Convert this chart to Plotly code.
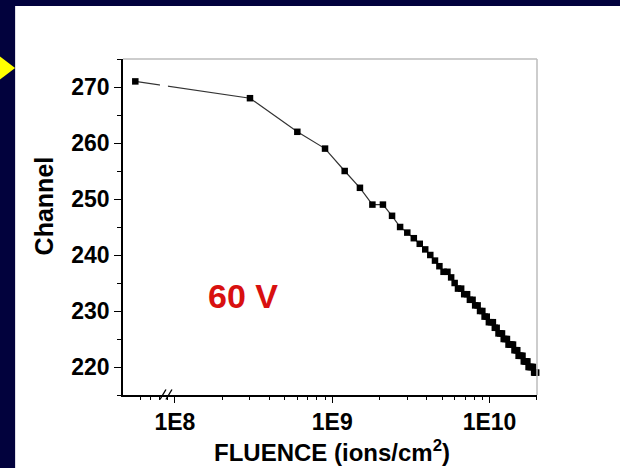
import plotly.graph_objects as go

# ---- data ----
fluence = [5.6e7, 3.0e8, 6.0e8, 9.0e8, 1.2e9, 1.5e9, 1.8e9, 2.1e9, 2.4e9, 2.7e9,
           3.0e9, 3.3e9, 3.6e9, 3.9e9, 4.2e9, 4.5e9, 4.8e9, 5.1e9, 5.4e9, 5.7e9,
           6.0e9, 6.3e9, 6.6e9, 6.9e9, 7.2e9, 7.5e9, 7.8e9, 8.1e9, 8.4e9, 8.7e9,
           9.0e9, 9.3e9, 9.6e9, 9.9e9, 1.02e10, 1.05e10, 1.08e10, 1.11e10, 1.14e10,
           1.17e10, 1.20e10, 1.23e10, 1.26e10, 1.29e10, 1.32e10, 1.35e10, 1.38e10,
           1.41e10, 1.44e10, 1.47e10, 1.50e10, 1.53e10, 1.56e10, 1.59e10, 1.62e10,
           1.65e10, 1.68e10, 1.71e10, 1.74e10, 1.77e10, 1.80e10, 1.83e10, 1.86e10,
           1.89e10, 1.92e10, 1.95e10, 1.98e10]
channel = [271, 268, 262, 259, 255, 252, 249, 249, 247, 245,
           244, 243, 242, 241, 240, 239, 238, 237, 237, 236,
           235, 234, 234, 233, 233, 232, 232, 231, 231, 230,
           230, 229, 229, 228, 228, 228, 227, 227, 226,
           226, 226, 225, 225, 225, 224, 224, 224,
           224, 223, 223, 223, 222, 222, 222, 222,
           221, 221, 221, 221, 220, 220, 220, 220,
           220, 219, 219, 219]

x_tickvals = [1e8, 1e9, 1e10]
x_ticktext = ["1E8", "1E9", "1E10"]
x_minor = [6e7, 7e7, 8e7, 9e7,
           2e8, 3e8, 4e8, 5e8, 6e8, 7e8, 8e8, 9e8,
           2e9, 3e9, 4e9, 5e9, 6e9, 7e9, 8e9, 9e9, 2e10]
y_tickvals = [220, 230, 240, 250, 260, 270]

FONT = "Liberation Sans, Arial, sans-serif"
NAVY = "#02023d"

# ---- layout geometry (pixels) ----
W_FIG, H_FIG = 620, 468
L, R, T, B = 123, 537.5, 59, 395.5
PW, PH = R - L, B - T


def px(x):
    return (x - L) / PW


def py(y):
    return (B - y) / PH


fig = go.Figure()
fig.add_trace(go.Scatter(
    x=fluence, y=channel, mode="lines+markers",
    line=dict(color="#333333", width=1.2),
    marker=dict(symbol="square", size=6.5, color="black"),
    cliponaxis=False, showlegend=False,
))

shapes = [
    # white slide panel
    dict(type="rect", xref="paper", yref="paper", x0=px(15), x1=px(700),
         y0=py(560), y1=py(6), fillcolor="white", line_width=0, layer="below"),
    # yellow arrow tip on the left edge
    dict(type="path", xref="paper", yref="paper",
         path=f"M {px(-2)},{py(55)} L {px(15)},{py(68)} L {px(-2)},{py(81)} Z",
         fillcolor="#ffff00", line_width=0, layer="above"),
    # light grey top and right frame
    dict(type="line", xref="paper", yref="paper", x0=0, x1=1, y0=1, y1=1,
         line=dict(color="#bdbdbd", width=1.5)),
    dict(type="line", xref="paper", yref="paper", x0=1, x1=1, y0=0, y1=1,
         line=dict(color="#bdbdbd", width=1.5)),
    # gap in the first line segment (axis break)
    dict(type="rect", xref="paper", yref="paper", x0=px(160), x1=px(168),
         y0=py(92), y1=py(79), fillcolor="white", line_width=0, layer="above"),
    # axis break marks //
    dict(type="line", xref="paper", yref="paper", x0=px(160), x1=px(166),
         y0=py(400), y1=py(390), line=dict(color="black", width=1.4)),
    dict(type="line", xref="paper", yref="paper", x0=px(166), x1=px(172),
         y0=py(400), y1=py(390), line=dict(color="black", width=1.4)),
]

annotations = [
    dict(text="60 V", xref="paper", yref="paper", x=px(243), y=py(296),
         showarrow=False, xanchor="center", yanchor="middle",
         font=dict(family=FONT, size=34, color="#d81010", weight="bold")),
    dict(text="Channel", xref="paper", yref="paper", x=px(44), y=py(206.5),
         showarrow=False, xanchor="center", yanchor="middle", textangle=-90,
         font=dict(family=FONT, size=25, color="black", weight="bold")),
    dict(text="FLUENCE (ions/cm<sup>2</sup>)", xref="paper", yref="paper",
         x=px(332.5), y=py(452), showarrow=False, xanchor="center", yanchor="middle",
         font=dict(family=FONT, size=24, color="black", weight="bold")),
]

fig.update_layout(
    width=W_FIG, height=H_FIG,
    margin=dict(l=L, r=W_FIG - R, t=T, b=H_FIG - B, pad=0),
    paper_bgcolor=NAVY, plot_bgcolor="white",
    shapes=shapes, annotations=annotations,
    xaxis=dict(
        type="log", range=[7.670, 10.3016],
        tickvals=x_tickvals, ticktext=x_ticktext,
        ticks="outside", ticklen=6, tickwidth=1.4, tickcolor="black",
        showline=True, linecolor="black", linewidth=1.5,
        showgrid=False, zeroline=False,
        tickfont=dict(family=FONT, size=23, color="black", weight="bold"),
        minor=dict(tickvals=x_minor, ticks="outside", ticklen=3, tickwidth=1,
                   tickcolor="black", showgrid=False),
    ),
    yaxis=dict(
        range=[215, 275], tickvals=y_tickvals,
        ticks="outside", ticklen=7, tickwidth=1.4, tickcolor="black",
        showline=True, linecolor="black", linewidth=1.5,
        showgrid=False, zeroline=False,
        tickfont=dict(family=FONT, size=23, color="black", weight="bold"),
        minor=dict(dtick=5, tick0=215, ticks="outside", ticklen=4, tickwidth=1,
                   tickcolor="black", showgrid=False),
    ),
)

fig.write_html(
    "out.html",
    config={"displayModeBar": False},
    post_script="document.body.style.margin='0';document.body.style.padding='0';"
                "document.body.style.overflow='hidden';",
)
